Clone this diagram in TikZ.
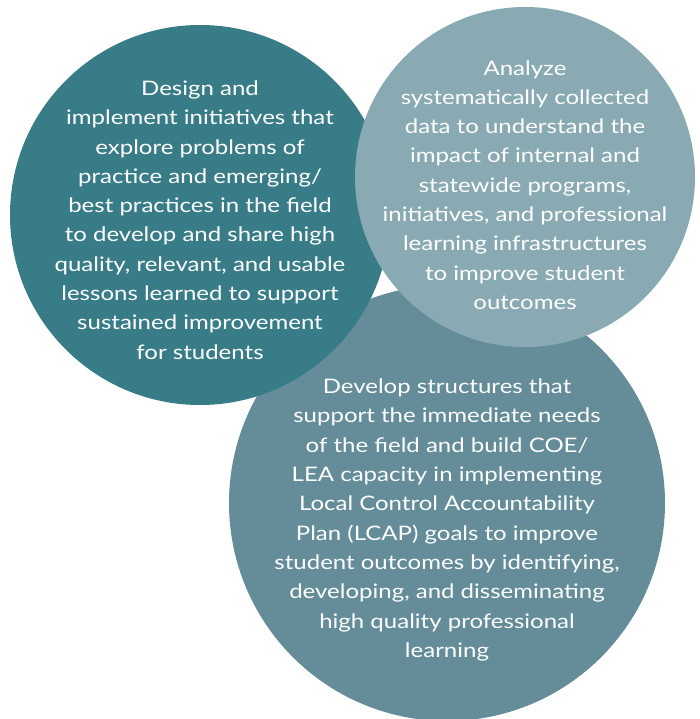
\documentclass[tikz,border=0pt]{standalone}
\usepackage{fontspec}
\setmainfont[FakeStretch=1.2]{Lato}
\usetikzlibrary{positioning}

\definecolor{darkteal}{RGB}{56,124,136}
\definecolor{midteal}{RGB}{100,141,153}
\definecolor{lightteal}{RGB}{137,170,178}

\begin{document}
\begin{tikzpicture}
[x=1pt,y=-1pt,
goal/.style={circle,draw=none,inner sep=0pt},
goal text/.style={text=white,align=center,inner sep=0pt,
font=\fontsize{20}{29.3}\selectfont}]

\useasboundingbox (0,0) rectangle (699,719);

% the three circles, bottom one first
\node [goal,fill=midteal,minimum size=436pt] (develop) at (447,503) {};
\node [goal,fill=darkteal,minimum size=380pt] (design) at (200,215) {};
\node [goal,fill=lightteal,minimum size=340pt] (analyze) at (525,177) {};

\node [goal text] (designtext) at ([yshift=-5pt]design.center)
{Design and\\ implement initiatives that\\ explore problems of\\
practice and emerging/\\ best practices in the field\\
to develop and share high\\ quality, relevant, and usable\\
lessons learned to support\\ sustained improvement\\ for students};
\node [goal text] (analyzetext) at ([yshift=-8pt]analyze.center)
{Analyze\\ systematically collected\\ data to understand the\\
impact of internal and\\ statewide programs,\\
initiatives, and professional\\ learning infrastructures\\
to improve student\\ outcomes};
\node [goal text] (developtext) at ([yshift=-17pt]develop.center)
{Develop structures that\\ support the immediate needs\\
of the field and build COE/\\ LEA capacity in implementing\\
Local Control Accountability\\ Plan (LCAP) goals to improve\\
student outcomes by identifying,\\ developing, and disseminating\\
high quality professional\\ learning};
\end{tikzpicture}
\end{document}
